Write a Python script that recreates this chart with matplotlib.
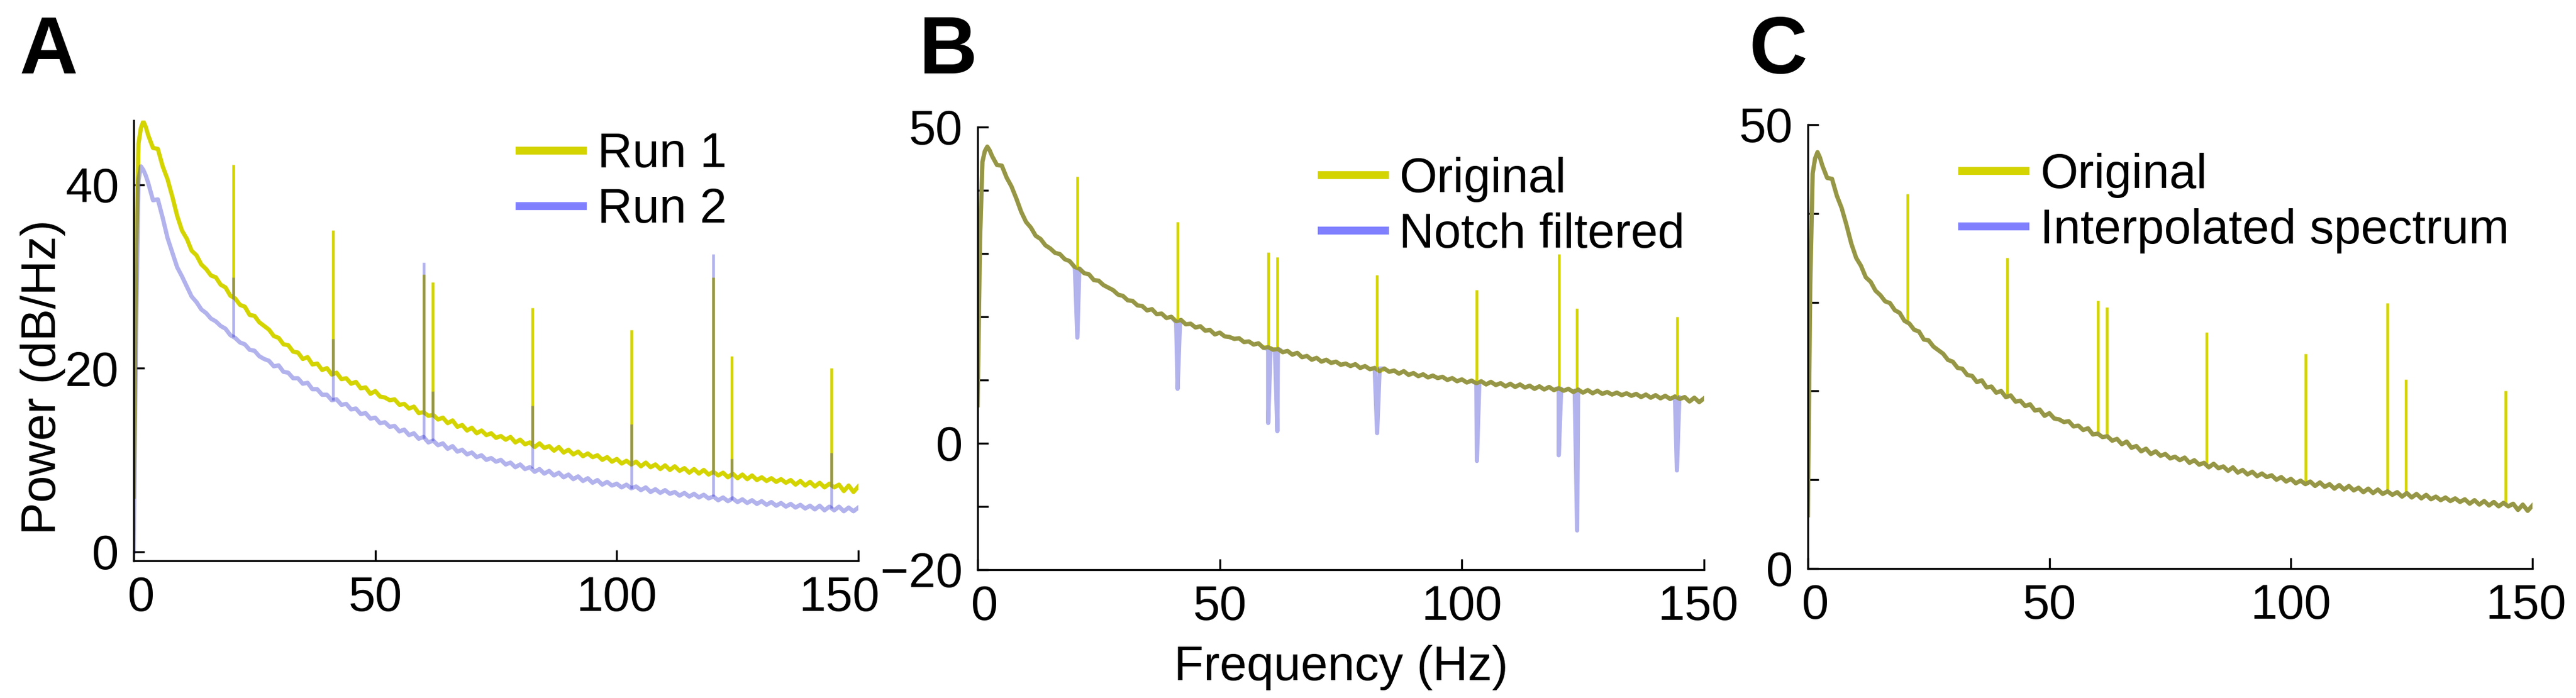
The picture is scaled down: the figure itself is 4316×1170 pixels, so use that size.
import matplotlib.pyplot as plt
from matplotlib.lines import Line2D
from matplotlib.transforms import ScaledTranslation
import numpy as np

plt.rcParams['font.family'] = ['Liberation Sans', 'DejaVu Sans']

# frequency axis (Hz): fine steps near 0, then 1 Hz
freq_hz = [0, 0.5, 1, 1.5, 2, 2.5] + list(range(3, 151))

# run 1 / original spectrum (dB/Hz)
run1_db = [6.0, 32.0, 44.5, 46.2, 46.9, 46.3,
           45.4, 44.0, 43.9, 42.0, 40.6, 38.7, 36.6, 35.0, 34.1, 32.8,
           32.3, 31.3, 30.8, 30.1, 29.9, 29.1, 28.8, 27.9, 27.6, 26.9,
           26.7, 25.8, 25.7, 25.0, 24.6, 24.2, 23.5, 23.3, 22.6, 22.5,
           21.8, 21.7, 21.0, 21.2, 20.4, 20.5, 19.8, 20.0, 19.3, 19.5,
           18.8, 18.9, 18.3, 18.5, 17.8, 17.9, 17.2, 17.5, 16.9, 16.8,
           16.5, 16.6, 16.0, 16.1, 15.6, 15.8, 15.1, 15.2, 14.8, 14.9,
           14.4, 14.6, 14.0, 14.3, 13.6, 13.8, 13.2, 13.5, 12.9, 13.2,
           12.7, 12.9, 12.4, 12.6, 12.2, 12.5, 11.9, 12.2, 11.7, 11.9,
           11.4, 11.8, 11.3, 11.5, 11.0, 11.4, 10.8, 11.1, 10.6, 10.9,
           10.4, 10.7, 10.3, 10.5, 10.0, 10.3, 9.8, 10.1, 9.6, 9.9,
           9.5, 9.8, 9.3, 9.7, 9.2, 9.5, 9.0, 9.4, 8.9, 9.3,
           8.8, 9.1, 8.6, 9.0, 8.5, 8.9, 8.4, 8.7, 8.3, 8.6,
           8.1, 8.5, 8.0, 8.4, 7.9, 8.3, 7.8, 8.1, 7.7, 8.0,
           7.6, 7.9, 7.5, 7.8, 7.3, 7.7, 7.2, 7.6, 7.1, 7.5,
           7.0, 7.4, 7.0, 7.3, 6.6, 7.2, 6.5, 7.1]

# run 2 spectrum (dB/Hz)
run2_db = [0.0, 24.0, 40.5, 42.0, 41.6, 41.0,
           40.2, 38.3, 38.4, 36.4, 34.2, 32.6, 31.0, 30.0, 28.9, 27.8,
           27.2, 26.4, 26.0, 25.4, 25.1, 24.6, 24.3, 23.6, 23.3, 22.8,
           22.6, 22.0, 21.9, 21.3, 21.0, 20.8, 20.2, 20.3, 19.6, 19.5,
           18.9, 18.9, 18.3, 18.4, 17.7, 17.7, 17.1, 17.1, 16.5, 16.6,
           16.0, 16.1, 15.5, 15.6, 15.0, 15.1, 14.5, 14.6, 14.0, 14.1,
           13.6, 13.7, 13.1, 13.3, 12.7, 12.9, 12.3, 12.5, 11.9, 12.1,
           11.6, 11.8, 11.2, 11.5, 10.9, 11.1, 10.6, 10.8, 10.3, 10.5,
           10.0, 10.2, 9.8, 10.0, 9.5, 9.7, 9.2, 9.5, 9.0, 9.2,
           8.7, 9.0, 8.5, 8.8, 8.3, 8.6, 8.1, 8.4, 7.9, 8.2,
           7.7, 8.0, 7.5, 7.8, 7.3, 7.6, 7.2, 7.4, 7.0, 7.3,
           6.9, 7.1, 6.7, 7.0, 6.5, 6.8, 6.4, 6.7, 6.3, 6.5,
           6.1, 6.4, 6.0, 6.3, 5.9, 6.2, 5.8, 6.0, 5.6, 5.9,
           5.5, 5.8, 5.4, 5.7, 5.3, 5.6, 5.2, 5.5, 5.1, 5.4,
           5.0, 5.3, 4.9, 5.2, 4.8, 5.1, 4.7, 5.0, 4.6, 5.0,
           4.5, 4.9, 4.5, 4.9, 4.4, 4.8, 4.4, 4.8]

# line-noise peaks
spike_hz = [20.6, 41.3, 60.0, 61.9, 82.5, 103.1, 120.0, 123.8, 144.4]
spike_base1 = [27.6, 19.3, 15.0, 14.8, 11.8, 9.6, 8.6, 8.3, 7.3]
spike_top1 = [42.2, 35.0, 30.2, 29.4, 26.6, 24.2, 29.9, 21.3, 20.0]
spike_base2 = [23.4, 16.5, 12.3, 12.1, 9.1, 6.9, 6.0, 5.6, 4.7]
spike_top2 = [29.9, 23.2, 31.5, 17.5, 15.9, 13.9, 32.4, 10.1, 10.8]
# notch filter dips (dB/Hz)
notch_db = [16.7, 8.6, 3.2, 1.9, 1.6, -2.8, -1.9, -13.8, -4.3]

yellow = '#d4d400'
blue_line = '#2323cd'
blue_leg = '#8080ff'
alpha2 = 0.35

# notch filtered series: original with the dips put in
nf = np.concatenate([freq_hz, np.array(spike_hz) - 0.5, spike_hz, np.array(spike_hz) + 0.5])
nv = np.concatenate([run1_db, spike_base1, notch_db, spike_base1])
order = np.argsort(nf, kind='stable')
notch_f, notch_v = nf[order], nv[order]

fig = plt.figure(figsize=(4316 / 300, 1170 / 300), dpi=300)
axA = fig.add_axes([0.0519, 0.1966, 0.2813, 0.6308])
axB = fig.add_axes([0.3795, 0.1838, 0.2820, 0.6342])
axC = fig.add_axes([0.7018, 0.1855, 0.2813, 0.6359])

lw = 1.7
slw = 1.1
fs = 19.5

# A
axA.plot(freq_hz, run1_db, color=yellow, lw=lw)
axA.vlines(spike_hz, spike_base1, spike_top1, color=yellow, lw=slw)
axA.plot(freq_hz, run2_db, color=blue_line, lw=lw, alpha=alpha2)
axA.vlines(spike_hz, spike_base2, spike_top2, color=blue_line, lw=slw, alpha=alpha2)
axA.set_ylim(-1, 47)
axA.set_yticks([0, 20, 40])
axA.set_ylabel('Power (dB/Hz)', fontsize=fs)
axA.yaxis.set_label_coords(-0.094, 0.417)

# B
axB.plot(freq_hz, run1_db, color=yellow, lw=lw)
axB.vlines(spike_hz, spike_base1, spike_top1, color=yellow, lw=slw)
axB.plot(notch_f, notch_v, color=blue_line, lw=lw, alpha=alpha2)
axB.set_ylim(-20, 50)
axB.set_yticks(range(-20, 51, 10))
axB.set_yticklabels(['\u221220', '', '0', '', '', '', '', '50'])
axB.set_xlabel('Frequency (Hz)', fontsize=fs, labelpad=6)

# C
axC.plot(freq_hz, run1_db, color=yellow, lw=lw)
axC.vlines(spike_hz, spike_base1, spike_top1, color=yellow, lw=slw)
axC.plot(freq_hz, run1_db, color=blue_line, lw=lw, alpha=alpha2)
axC.set_ylim(0, 50)
axC.set_yticks(range(0, 51, 10))
axC.set_yticklabels(['0', '', '', '', '', '50'])

legends = [(axA, ['Run 1', 'Run 2'], (0.532, 0.974), -32),
           (axB, ['Original', 'Notch filtered'], (0.473, 0.933), -10),
           (axC, ['Original', 'Interpolated spectrum'], (0.2125, 0.937), -11)]
for ax, labels, anchor, last_dx in legends:
    ax.set_xlim(0, 150)
    ax.set_xticks([0, 50, 100, 150])
    for s in ['top', 'right']:
        ax.spines[s].set_visible(False)
    for s in ['left', 'bottom']:
        ax.spines[s].set_linewidth(0.8)
    ax.tick_params(direction='in', length=4.3, width=0.8, labelsize=fs, pad=6)
    # end labels sit slightly inwards, as in the original figure
    xl = ax.get_xticklabels()
    for lab, dx in [(xl[0], 12), (xl[-1], last_dx)]:
        lab.set_transform(lab.get_transform() + ScaledTranslation(dx / 300, 0, fig.dpi_scale_trans))
    handles = [Line2D([], [], color=yellow, lw=3.2), Line2D([], [], color=blue_leg, lw=3.2)]
    ax.legend(handles, labels, loc='upper left', bbox_to_anchor=anchor, frameon=False,
              fontsize=fs, handlelength=1.31, handletextpad=0.3, labelspacing=0.21,
              borderpad=0, borderaxespad=0)

for letter, x in [('A', 33), ('B', 1540), ('C', 2931)]:
    fig.text(x / 4316, 1 - 123 / 1170, letter, fontsize=32.5, fontweight='bold', va='baseline')

fig.savefig('out.png', dpi=300)
